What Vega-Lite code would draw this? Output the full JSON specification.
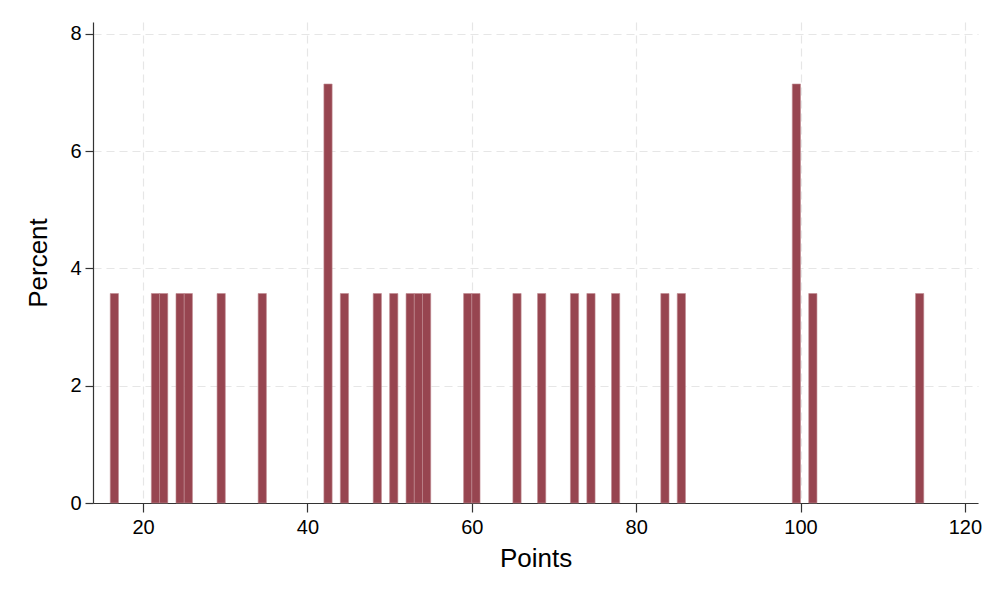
{
  "$schema": "https://vega.github.io/schema/vega-lite/v6.json",
  "width": 885,
  "height": 481,
  "autosize": {"type": "none"},
  "padding": {"left": 93, "top": 22, "right": 22, "bottom": 96},
  "background": "white",
  "data": {
    "values": [
      {"lo": 16, "hi": 17, "percent": 3.571},
      {"lo": 21, "hi": 22, "percent": 3.571},
      {"lo": 22, "hi": 23, "percent": 3.571},
      {"lo": 24, "hi": 25, "percent": 3.571},
      {"lo": 25, "hi": 26, "percent": 3.571},
      {"lo": 29, "hi": 30, "percent": 3.571},
      {"lo": 34, "hi": 35, "percent": 3.571},
      {"lo": 42, "hi": 43, "percent": 7.143},
      {"lo": 44, "hi": 45, "percent": 3.571},
      {"lo": 48, "hi": 49, "percent": 3.571},
      {"lo": 50, "hi": 51, "percent": 3.571},
      {"lo": 52, "hi": 53, "percent": 3.571},
      {"lo": 53, "hi": 54, "percent": 3.571},
      {"lo": 54, "hi": 55, "percent": 3.571},
      {"lo": 59, "hi": 60, "percent": 3.571},
      {"lo": 60, "hi": 61, "percent": 3.571},
      {"lo": 65, "hi": 66, "percent": 3.571},
      {"lo": 68, "hi": 69, "percent": 3.571},
      {"lo": 72, "hi": 73, "percent": 3.571},
      {"lo": 74, "hi": 75, "percent": 3.571},
      {"lo": 77, "hi": 78, "percent": 3.571},
      {"lo": 83, "hi": 84, "percent": 3.571},
      {"lo": 85, "hi": 86, "percent": 3.571},
      {"lo": 99, "hi": 100, "percent": 7.143},
      {"lo": 101, "hi": 102, "percent": 3.571},
      {"lo": 114, "hi": 115, "percent": 3.571}
    ]
  },
  "mark": {
    "type": "rect",
    "fill": "#974550",
    "stroke": "#c08a90",
    "strokeWidth": 0.6
  },
  "encoding": {
    "x": {
      "field": "lo",
      "type": "quantitative",
      "scale": {"domain": [13.9, 121.6], "nice": false, "zero": false},
      "axis": {
        "title": "Points",
        "values": [20, 40, 60, 80, 100, 120],
        "tickSize": 9,
        "labelPadding": 5,
        "titlePadding": 8
      }
    },
    "x2": {"field": "hi"},
    "y": {
      "field": "percent",
      "type": "quantitative",
      "scale": {"domain": [0, 8.2], "nice": false},
      "axis": {
        "title": "Percent",
        "values": [0, 2, 4, 6, 8],
        "tickSize": 8,
        "labelPadding": 4,
        "titlePadding": 18
      }
    },
    "y2": {"datum": 0}
  },
  "config": {
    "view": {"stroke": null},
    "axis": {
      "labelFont": "Liberation Sans",
      "titleFont": "Liberation Sans",
      "labelFontSize": 20,
      "titleFontSize": 26,
      "titleFontWeight": "normal",
      "labelColor": "black",
      "titleColor": "black",
      "domainColor": "#333333",
      "tickColor": "#333333",
      "domainWidth": 1.2,
      "tickWidth": 1.2,
      "gridColor": "#e6e6e6",
      "gridDash": [8, 5],
      "gridWidth": 1.2
    }
  }
}
